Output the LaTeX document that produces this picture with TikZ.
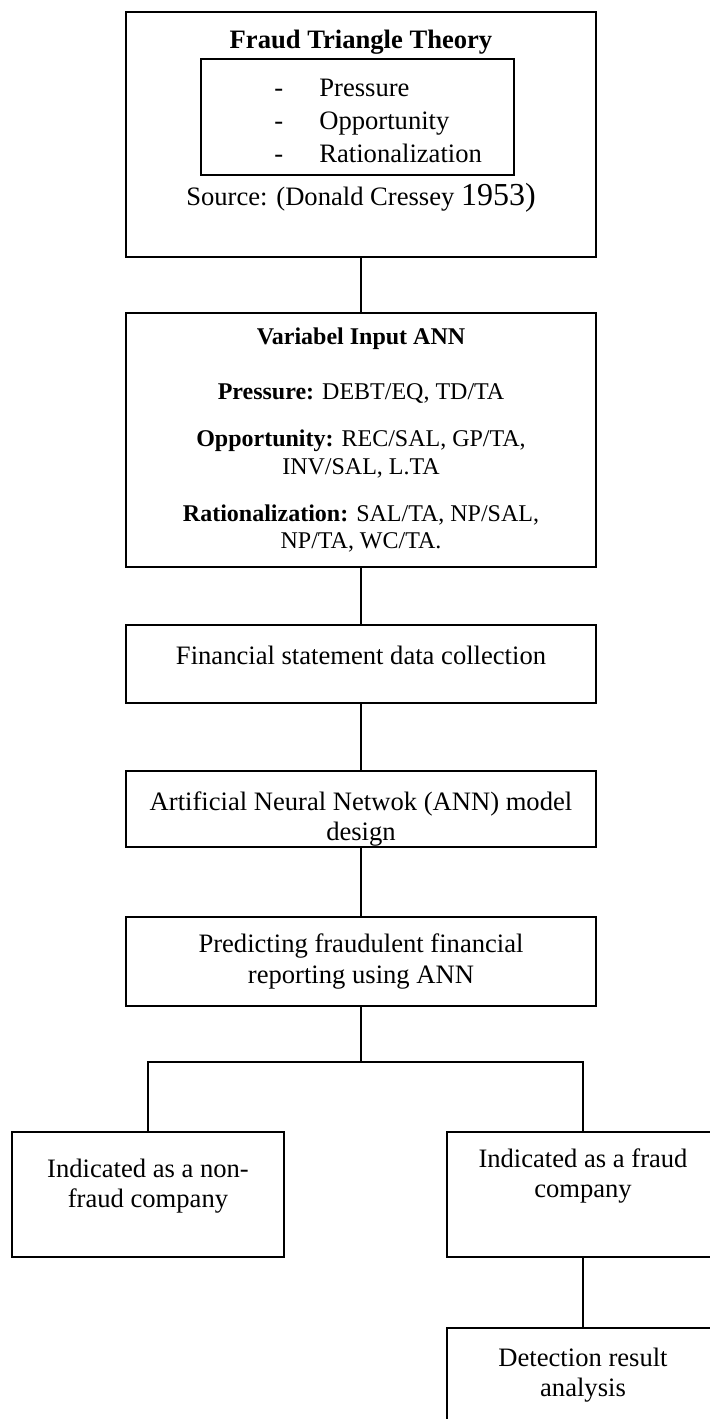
\documentclass[tikz,border=0pt]{standalone}
\usepackage{fontspec}
\setmainfont{Liberation Serif}
\usetikzlibrary{positioning}

\tikzset{
  box/.style={draw, line width=1pt, rectangle, inner sep=0pt},
  wide/.style={box, minimum width=235pt},
  side/.style={box, minimum width=136pt},
  txt/.style={align=center, inner sep=0pt, font=\fontsize{13.3}{15.3}\selectfont},
  link/.style={line width=1pt},
}

\begin{document}
\begin{tikzpicture}[x=0.5pt, y=-0.5pt]
 \useasboundingbox (0,0) rectangle (710,1419);
 % theory box
 \node[wide, minimum height=122.5pt] (theory) at (361,134.5) {};
 \node[txt, font=\bfseries\fontsize{13.3}{15.3}\selectfont] (theorytitle) at (361,42) {Fraud Triangle Theory};
 \node[box, minimum width=156.5pt, minimum height=58pt] (triangle) at (357.5,117) {};
 \node[txt, align=left, anchor=west, font=\fontsize{13.3}{16.5}\selectfont] (triitems) at (274,121)
  {\makebox[22.5pt][l]{-}Pressure\\ \makebox[22.5pt][l]{-}Opportunity\\ \makebox[22.5pt][l]{-}Rationalization};
 \node[txt] (source) at (361,198) {Source: (Donald Cressey {\fontsize{16}{16}\selectfont 1953)}};
 % variables
 \node[wide, minimum height=127pt, txt, font=\fontsize{12}{13.6}\selectfont] (vars) at (361,440)
  {\textbf{Variabel Input ANN}\\[14pt]
   \textbf{Pressure:} DEBT/EQ, TD/TA\\[10pt]
   \textbf{Opportunity:} REC/SAL, GP/TA,\\ INV/SAL, L.TA\\[10pt]
   \textbf{Rationalization:} SAL/TA, NP/SAL,\\ NP/TA, WC/TA.};
 % flow
 \node[wide, minimum height=39pt] (collect) at (361,664) {};
 \node[txt] (collecttxt) at (361,655) {Financial statement data collection};
 \node[wide, minimum height=38pt] (design) at (361,809) {};
 \node[txt] (designtxt) at (361,819) {Artificial Neural Netwok (ANN) model\\design};
 \node[wide, minimum height=44.5pt, txt] (predict) at (361,961.5) {Predicting fraudulent financial\\reporting using ANN};
 \coordinate (split) at (361,1062);
 \node[side, minimum height=62.5pt] (nonfraud) at (148,1194.5) {};
 \node[txt] (nonfraudtxt) at (148,1186) {Indicated as a non-\\fraud company};
 \node[side, minimum height=62.5pt] (fraud) at (583,1194.5) {};
 \node[txt] (fraudtxt) at (583,1176) {Indicated as a fraud\\company};
 \node[side, minimum height=47pt, txt] (analysis) at (583,1375) {Detection result\\analysis};

 \draw[link] (theory) -- (vars);
 \draw[link] (vars) -- (collect);
 \draw[link] (collect) -- (design);
 \draw[link] (design) -- (predict);
 \draw[link] (predict) -- (split);
 \draw[link] (nonfraud.north) |- (split) -| (fraud.north);
 \draw[link] (fraud) -- (analysis);
\end{tikzpicture}
\end{document}
